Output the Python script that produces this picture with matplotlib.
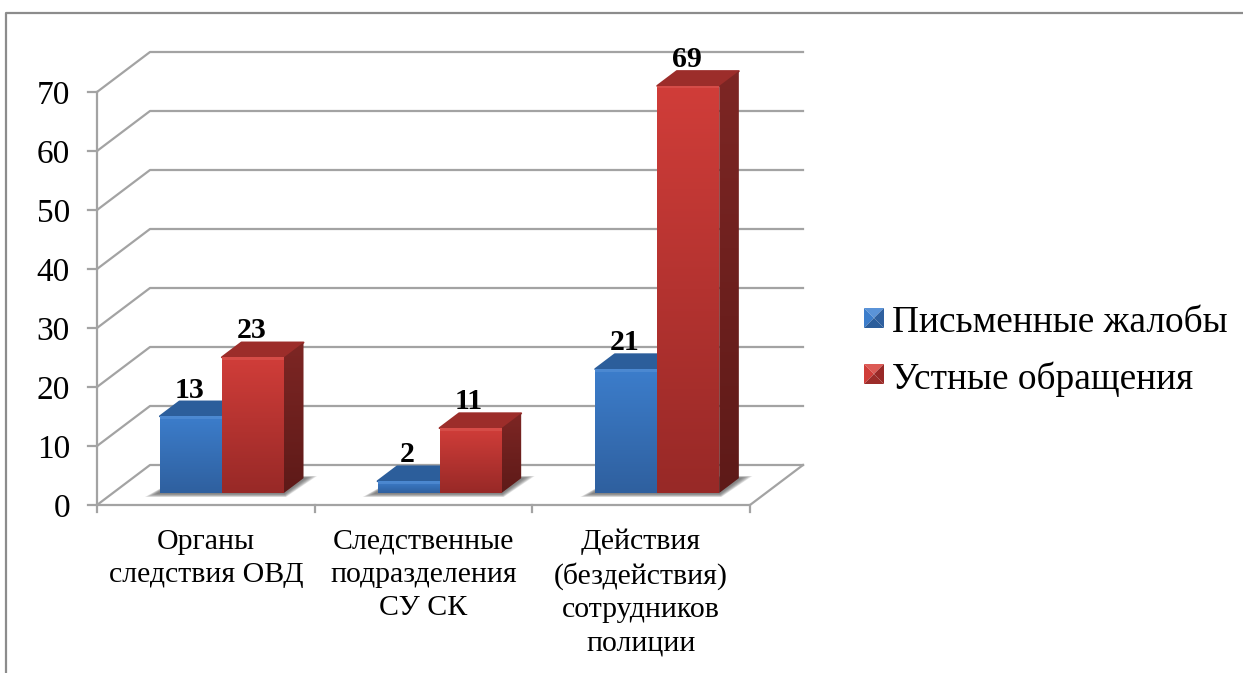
import numpy as np
import matplotlib.pyplot as plt
from matplotlib.colors import LinearSegmentedColormap
from matplotlib.patches import Polygon

# data
categories = ['Органы\nследствия ОВД', 'Следственные\nподразделения\nСУ СК',
              'Действия\n(бездействия)\nсотрудников\nполиции']
series_names = ['Письменные жалобы', 'Устные обращения']
written = [13, 2, 21]
oral = [23, 11, 69]
y_ticks = [0, 10, 20, 30, 40, 50, 60, 70]

W, H = 1243, 673
plt.rcParams['font.family'] = ['Liberation Serif', 'DejaVu Serif']

GRID = '#a3a3a3'
# front / top / side colours for each series
BLUE = dict(hi='#3c7dcb', lo='#2f609f', top='#2c5e9b', side_hi='#24508a', side_lo='#1d4272', shine='#5a93d8')
RED = dict(hi='#d03d39', lo='#982927', top='#9c2d2a', side_hi='#7d2624', side_lo='#5e1a18', shine='#dc5a55')

fig = plt.figure(figsize=(W / 100, H / 100), dpi=100)

# page frame, clipped by the picture on the right and bottom
bg = fig.add_axes([0, 0, 1, 1])
bg.set_xlim(0, W)
bg.set_ylim(H, 0)
bg.axis('off')
bg.plot([6.5, 6.5, W], [H, 13, 13], color='#8c8c8c', lw=1.6)

# plot area: x in category units, y in value units, axes fill the whole figure
left, right, bottom, top = 97, 750, 505, 92
ux = (right - left) / 3      # pixels per category
uy = (bottom - top) / 70     # pixels per value unit
ax = fig.add_axes([0, 0, 1, 1])
ax.axis('off')

DX = 53 / ux      # depth of the floor in category units
DY = 40 / uy      # depth of the floor in value units


def proj(x, v, d):
    return (x + d * DX, v + d * DY)


# walls and floor
for v in y_ticks:
    ax.plot(*zip(proj(0, v, 0), proj(0, v, 1), proj(3, v, 1)), color=GRID, lw=1.6, zorder=1)
ax.plot(*zip(proj(0, 70, 0), proj(0, 0, 0), proj(3, 0, 0), proj(3, 0, 1)), color=GRID, lw=1.6, zorder=1)
for v in y_ticks:
    ax.plot([-9 / ux, 0], [v, v], color=GRID, lw=1.6, zorder=1)
    ax.text(-27 / ux, v, str(v), ha='right', va='center_baseline', fontsize=24, zorder=5)
for i in range(4):
    ax.plot([i, i], [0, -7 / uy], color=GRID, lw=1.6, zorder=1)

group_gap = 47 / ux
bar_w = 62 / ux
d0, d1 = 0.30, 0.67


def gradient(poly_pts, c_top, c_bot, z):
    xs, ys = zip(*poly_pts)
    cmap = LinearSegmentedColormap.from_list('g', [c_bot, c_top])
    im = ax.imshow(np.linspace(1, 0, 64).reshape(-1, 1), cmap=cmap, vmin=0, vmax=1, aspect='auto',
                   extent=[min(xs), max(xs), min(ys), max(ys)], zorder=z, interpolation='bilinear')
    patch = Polygon(poly_pts, closed=True, transform=ax.transData, fc='none', ec='none')
    ax.add_patch(patch)
    im.set_clip_path(patch)


def draw_shadow(x0, x1, z):
    # soft shadow on the floor, nested polygons running from the outer edge to the bar footprint
    outer = np.array([proj(x0 - 9.6 / ux, 0, 0.20), proj(x1 + 7.4 / ux, 0, 0.20),
                      proj(x1 + 10.6 / ux, 0, 0.725), proj(x0, 0, 0.725)])
    inner = np.array([proj(x0, 0, d0), proj(x1, 0, d0), proj(x1, 0, d1), proj(x0, 0, d1)])
    for t in np.linspace(0, 0.75, 8):
        ax.add_patch(Polygon(outer * (1 - t) + inner * t, closed=True, fc='#5a5a5a', ec='none',
                             alpha=0.15, zorder=z))


def draw_bar(x0, v, col, z):
    x1 = x0 + bar_w
    front = [proj(x0, 0, d0), proj(x1, 0, d0), proj(x1, v, d0), proj(x0, v, d0)]
    top_face = [proj(x0, v, d0), proj(x1, v, d0), proj(x1, v, d1), proj(x0, v, d1)]
    side = [proj(x1, 0, d0), proj(x1, 0, d1), proj(x1, v, d1), proj(x1, v, d0)]
    ax.add_patch(Polygon(top_face, closed=True, fc=col['top'], ec=col['top'], lw=1.4, joinstyle='round', zorder=z))
    gradient(side, col['side_hi'], col['side_lo'], z + 0.1)
    gradient(front, col['hi'], col['lo'], z + 0.2)
    # light bevel along the upper edge of the front face
    eps = 2.5 / uy
    ax.add_patch(Polygon([proj(x0, v, d0), proj(x1, v, d0), proj(x1, v - eps, d0), proj(x0, v - eps, d0)],
                         closed=True, fc=col['shine'], ec='none', alpha=0.55, zorder=z + 0.3))


for i in range(len(categories)):
    x0 = i + group_gap
    draw_shadow(x0, x0 + 2 * bar_w, 2)
    draw_bar(x0, written[i], BLUE, 3)
    draw_bar(x0 + bar_w, oral[i], RED, 3.5)
    for x, v in ((x0, written[i]), (x0 + bar_w, oral[i])):
        lx, ly = proj(x + bar_w / 2, v, d0)
        ax.text(lx - 1.5 / ux, proj(x, v, d1)[1] + 4 / uy, str(v), ha='center', va='baseline', fontsize=21.5,
                fontweight='bold', zorder=6)
    ax.text(i + 0.5, -4.0, categories[i], ha='center', va='top', fontsize=21.5, linespacing=1.35, zorder=6)

ax.set_xlim(-left / ux, (W - left) / ux)
ax.set_ylim(-(H - bottom) / uy, bottom / uy)

# legend with pyramid style swatches
for name, col, yc, base in zip(series_names, (BLUE, RED), (318, 374), (332, 389)):
    x0, x1, y0, y1 = 864, 884, yc - 10, yc + 10
    cx, cy = (x0 + x1) / 2, yc
    bg.add_patch(Polygon([(x0, y0), (x1, y0), (cx, cy)], fc=col['shine'], ec='none'))
    bg.add_patch(Polygon([(x0, y0), (x0, y1), (cx, cy)], fc=col['hi'], ec='none'))
    bg.add_patch(Polygon([(x1, y0), (x1, y1), (cx, cy)], fc=col['lo'], ec='none'))
    bg.add_patch(Polygon([(x0, y1), (x1, y1), (cx, cy)], fc=col['top'], ec='none'))
    bg.text(892, base, name, ha='left', va='baseline', fontsize=26.9)

fig.savefig('out.png', dpi=100)
